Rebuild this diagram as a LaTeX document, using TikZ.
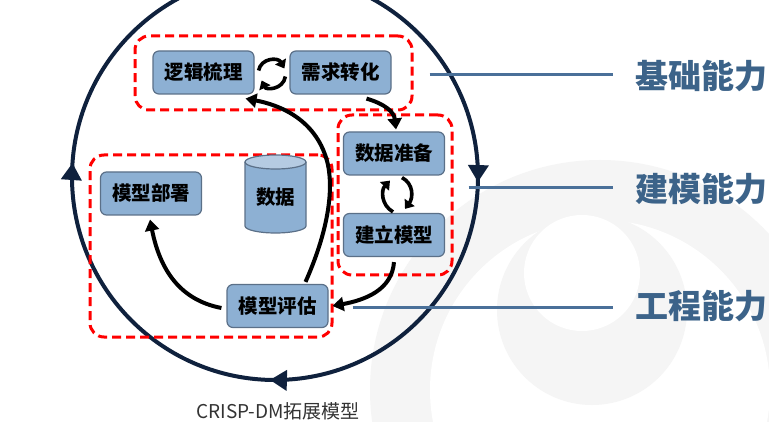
\documentclass[tikz,border=0pt]{standalone}
\usepackage{fontspec}
\setmainfont{Noto Sans CJK SC}
\usetikzlibrary{arrows.meta,decorations.markings}
\definecolor{boxfill}{HTML}{8DB0D3}
\definecolor{boxline}{HTML}{5B7088}
\definecolor{cyltop}{HTML}{B5CBE2}
\definecolor{ringcol}{HTML}{0F213D}
\definecolor{labcol}{HTML}{3C6389}
\definecolor{linkcol}{HTML}{4A7099}
\definecolor{wmark}{HTML}{F5F5F5}
\definecolor{capcol}{HTML}{333333}
\tikzset{
  stepbox/.style={draw=boxline, line width=1.2pt, fill=boxfill, rounded corners=6pt,
    minimum width=101, minimum height=43, inner sep=0pt, font=\fontsize{19.5}{21}\selectfont\bfseries},
  grp/.style={draw=red, line width=3pt, dash pattern=on 9pt off 5pt, rounded corners=14pt, inner sep=0pt},
  flow/.style={line width=4pt, -{Triangle[length=11pt,width=14pt]}},
  cyc/.style={line width=3.6pt, -{Triangle[length=8pt,width=12pt]}},
  caplab/.style={anchor=west, inner sep=0pt, text=labcol, font=\fontsize{33}{36}\selectfont\bfseries},
  link/.style={draw=linkcol, line width=3pt},
  ring/.style={draw=ringcol, line width=4pt,
    postaction={decorate, decoration={markings,
      mark=at position 0.254 with {\arrow{Triangle[length=17pt,width=20pt]}},
      mark=at position 0.504 with {\arrow{Triangle[length=17pt,width=20pt]}},
      mark=at position 0.761 with {\arrow{Triangle[length=17pt,width=20pt]}}}}}
}
\begin{document}
\begin{tikzpicture}[x=1pt,y=-1pt]
\useasboundingbox (0,0) rectangle (769,422);
\clip (0,0) rectangle (769,422);
\fill[white] (0,0) rectangle (769,422);
% faint watermark
\fill[wmark] (600,390) circle (230);
\fill[white] (600,390) circle (170);
\fill[wmark] (592,310) circle (95);
\fill[white] (582,273) circle (58);
% outer cycle
\draw[ring] (275,177) ++(-90:203) arc[start angle=-90, end angle=270, radius=203];
% groups
\node[grp, minimum width=277, minimum height=74] (g1) at (273.5,73) {};
\node[grp, minimum width=114, minimum height=160] (g2) at (395,195) {};
\node[grp, minimum width=242, minimum height=182] (g3) at (211,246) {};
% boxes
\node[stepbox] (r1) at (203.5,72.5) {逻辑梳理};
\node[stepbox] (r2) at (340.5,72.5) {需求转化};
\node[stepbox] (d1) at (394,153.5) {数据准备};
\node[stepbox] (d2) at (394,235) {建立模型};
\node[stepbox] (m1) at (151,193.5) {模型部署};
\node[stepbox] (m2) at (277.5,306) {模型评估};
% cylinder
\fill[boxfill] (245,162) -- (245,226) arc[start angle=180, end angle=0, x radius=30.5, y radius=7] -- (306,162) -- cycle;
\draw[boxline, line width=1.2pt] (245,162) -- (245,226) arc[start angle=180, end angle=0, x radius=30.5, y radius=7] -- (306,162);
\filldraw[fill=cyltop, draw=boxline, line width=1.2pt] (275.5,162) ellipse[x radius=30.5, y radius=7];
\node[font=\fontsize{19.5}{21}\selectfont\bfseries, inner sep=0pt] (db) at (275.5,197) {数据};
% flows
\draw[flow] ([shift={(26,4)}]r2.south) .. controls (385,104) and (394,112) .. ([shift={(2,-2)}]d1.north);
\draw[flow] ([shift={(28,-2)}]m2.north) .. controls (322,245) and (335,200) .. (328,165) .. controls (318,120) and (280,105) .. ([shift={(42,4)}]r1.south);
\draw[flow] ([shift={(0,5)}]d2.south) .. controls (392,290) and (365,300) .. ([shift={(4,0)}]m2.east);
\draw[flow] ([shift={(-5,2)}]m2.west) .. controls (180,300) and (160,270) .. ([shift={(-1,4)}]m1.south);
% small cycles
\draw[cyc] ([shift={(4,-2)}]r1.east) .. controls (261,58) and (278,57) .. ([shift={(-5,-4)}]r2.west);
\draw[cyc] ([shift={(-4,4)}]r2.west) .. controls (283,90) and (266,90) .. ([shift={(7,8)}]r1.east);
\draw[cyc] ([shift={(-1,-1)}]d2.north) .. controls (381,205) and (381,190) .. ([shift={(-4,5)}]d1.south);
\draw[cyc] ([shift={(8,2)}]d1.south) .. controls (414,184) and (413,198) .. ([shift={(11,-4)}]d2.north);
% labels
\node[caplab] (L1) at (635,76) {基础能力};
\node[caplab] (L2) at (635,189) {建模能力};
\node[caplab] (L3) at (635,306) {工程能力};
\draw[link] ([shift={(16,2)}]g1.east) -- ([shift={(-22,-1)}]L1.west);
\draw[link] ([shift={(15,-7)}]g2.east) -- ([shift={(-22,-1)}]L2.west);
\draw[link] ([shift={(24,2)}]m2.east) -- ([shift={(-22,2)}]L3.west);
% caption
\node[text=capcol, font=\fontsize{19}{21}\selectfont, inner sep=0pt] (cap) at (278,411) {CRISP-DM拓展模型};
\end{tikzpicture}
\end{document}
